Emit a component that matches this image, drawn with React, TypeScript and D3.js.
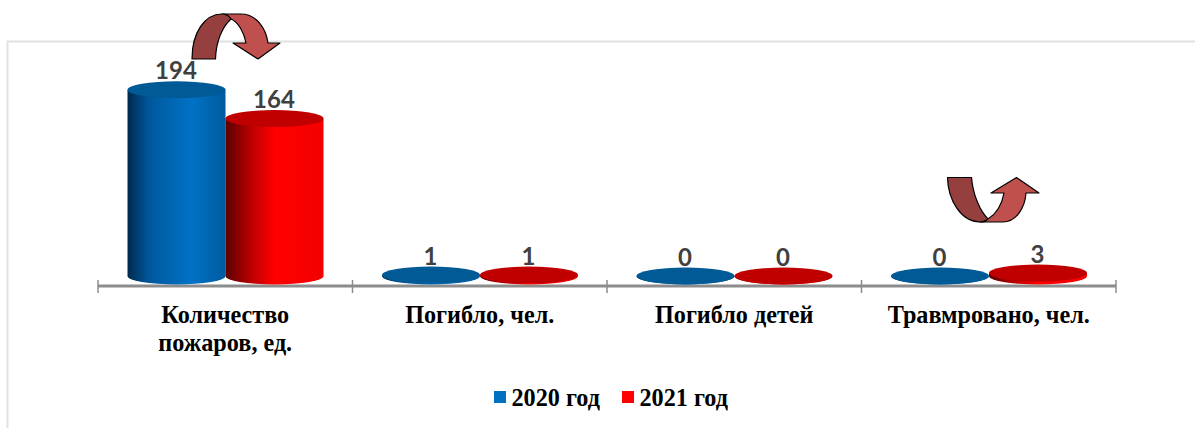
import * as d3 from "d3";

const categories = [
  ["Количество", "пожаров, ед."],
  ["Погибло, чел."],
  ["Погибло детей"],
  ["Травмровано, чел."],
];
const categoryKeys = categories.map((c) => c.join(" "));
const seriesNames = ["2020 год", "2021 год"];
const values2020 = [194, 1, 0, 0];
const values2021 = [164, 1, 0, 3];

const width = 1195;
const height = 428;
const marginLeft = 98;
const marginRight = 79;
const baseY = 276;
const ry = 8.5;

const x = d3
  .scaleBand<string>()
  .domain(categoryKeys)
  .range([marginLeft, width - marginRight]);

const xInner = d3
  .scaleBand<string>()
  .domain(seriesNames)
  .range([x.bandwidth() / 2 - 98, x.bandwidth() / 2 + 98]);

const y = d3.scaleLinear().domain([0, 200]).range([baseY, 84]);

// arrows are annotations, not data
const arrow1Dark =
  "M192 59 C192 32 205 14 222 14 C227 14 229 16 231 19 C222 27 216 42 215.5 59 Z";
const arrow1Light =
  "M222 14 L241 14 C256 14 266 28 268 43 L280 43 L258 59 L233 43 L246 43 C244 32 238 22 231 19 C229 16 227 14 222 14 Z";
const arrow2Dark =
  "M947.5 177.5 L971.5 177.5 C973 195 980 211 988 219 C986 221 983 222 980 222 C961 222 948 200 947.5 177.5 Z";
const arrow2Light =
  "M980 222 L1003 222 C1016 222 1025 208 1026 193 L1039 193 L1016.5 177.5 L991 193 L1004 193 C1002 204 996 214 988 219 C986 221 983 222 980 222 Z";

function cylinderSide(cx: number, rx: number, top: number, bottom: number) {
  return `M${cx - rx} ${top} L${cx - rx} ${bottom} A${rx} ${ry} 0 0 0 ${cx + rx} ${bottom} L${cx + rx} ${top} Z`;
}

export default function App() {
  const series = [
    { name: seriesNames[0], values: values2020, grad: "url(#blueSide)", top: "#005a96", key: "#0070c0" },
    { name: seriesNames[1], values: values2021, grad: "url(#redSide)", top: "#c00000", key: "#ff0000" },
  ];
  const rx = xInner.bandwidth() / 2;
  const edges = [...categoryKeys.map((c) => x(c)!), width - marginRight];

  return (
    <svg
      width={width}
      height={height}
      style={{ position: "absolute", left: 0, top: 0, background: "#fff" }}
    >
      <defs>
        <linearGradient id="blueSide" x1="0" x2="1" y1="0" y2="0">
          <stop offset="0" stopColor="#00294d" />
          <stop offset="0.22" stopColor="#00589c" />
          <stop offset="0.65" stopColor="#0072c6" />
          <stop offset="1" stopColor="#005a9e" />
        </linearGradient>
        <linearGradient id="redSide" x1="0" x2="1" y1="0" y2="0">
          <stop offset="0" stopColor="#5a0000" />
          <stop offset="0.25" stopColor="#b80000" />
          <stop offset="0.5" stopColor="#ff0000" />
          <stop offset="1" stopColor="#f40000" />
        </linearGradient>
      </defs>

      <path d={`M7.5 428 V41.5 H${width}`} fill="none" stroke="#e2e2e2" strokeWidth={2} />

      <line
        x1={marginLeft}
        x2={width - marginRight}
        y1={286}
        y2={286}
        stroke="#8c8c8c"
        strokeWidth={3}
      />
      {edges.map((e, i) => (
        <line key={i} x1={e} x2={e} y1={280} y2={293} stroke="#8c8c8c" strokeWidth={1.5} />
      ))}

      {series.map((s) =>
        categoryKeys.map((c, i) => {
          const cx = x(c)! + xInner(s.name)! + rx + 0.25;
          const top = y(s.values[i]);
          return (
            <g key={s.name + c}>
              <path d={cylinderSide(cx, rx, top, baseY)} fill={s.grad} />
              <ellipse cx={cx} cy={top} rx={rx} ry={ry} fill={s.top} />
              <text
                x={cx - 0.5}
                y={top - 10.5}
                textAnchor="middle"
                fontFamily="Lato"
                fontWeight="bold"
                fontSize={24}
                fill="#404040"
              >
                {s.values[i]}
              </text>
            </g>
          );
        })
      )}

      {categories.map((lines, i) => (
        <text
          key={i}
          textAnchor="middle"
          fontFamily="'Liberation Serif'"
          fontWeight="bold"
          fontSize={24.2}
          fill="#000"
        >
          {lines.map((l, j) => (
            <tspan key={j} x={x(categoryKeys[i])! + x.bandwidth() / 2} y={323 + j * 27.5}>
              {l}
            </tspan>
          ))}
        </text>
      ))}

      <path d={arrow1Light} fill="#c0504d" stroke="#000" strokeWidth={1.2} strokeLinejoin="round" />
      <path d={arrow1Dark} fill="#953f3f" stroke="#000" strokeWidth={1.2} strokeLinejoin="round" />
      <path d={arrow2Dark} fill="#953f3f" stroke="#000" strokeWidth={1.2} strokeLinejoin="round" />
      <path d={arrow2Light} fill="#c0504d" stroke="#000" strokeWidth={1.2} strokeLinejoin="round" />

      {series.map((s, i) => (
        <g key={s.name} transform={`translate(${494 + i * 128},391)`}>
          <rect width={12} height={12} fill={s.key} />
          <text
            x={17.5}
            y={14.5}
            fontFamily="'Liberation Serif'"
            fontWeight="bold"
            fontSize={24.2}
            fill="#000"
          >
            {s.name}
          </text>
        </g>
      ))}
    </svg>
  );
}
